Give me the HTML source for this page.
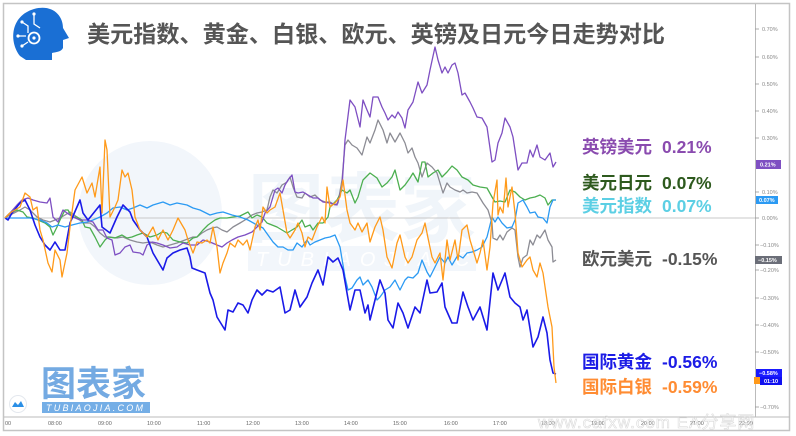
<!DOCTYPE html>
<html><head><meta charset="utf-8"><style>
html,body{margin:0;padding:0;background:#fff;}
svg{display:block;}
text{font-family:"Liberation Sans","Noto Sans CJK SC",sans-serif;}
</style></head><body>
<svg width="796" height="436" viewBox="0 0 796 436" xmlns="http://www.w3.org/2000/svg">
<rect x="0" y="0" width="796" height="436" fill="#fff"/>
<!-- watermark -->
<circle cx="150" cy="213" r="72" fill="#f2f6fb"/>
<text x="248" y="236" font-size="76" font-weight="bold" fill="#f0f5fa">图表家</text>
<rect x="248" y="246" width="228" height="25" fill="#f2f6fb"/>
<text x="256" y="266" font-size="20" font-style="italic" fill="#ffffff" letter-spacing="9">TUBIAOJIA.COM</text>

<!-- frame -->
<rect x="3.5" y="3.5" width="786" height="427" fill="none" stroke="#c4c4c4" stroke-width="1.5"/>
<line x1="755.5" y1="4" x2="755.5" y2="417" stroke="#bbb" stroke-width="1"/>
<line x1="4" y1="417" x2="790" y2="417" stroke="#bbb" stroke-width="1"/>
<line x1="5" y1="218" x2="755" y2="218" stroke="#c8c8c8" stroke-width="1"/>

<!-- logo -->
<path d="M20,56 C9,42 10,16 34,9 C52,4 63,15 63,28 L69,38 L63,40 L63,48 C61,52 56,52 52,53 L52,60 L26,60 Z" fill="#1a6fd4"/>
<circle cx="34" cy="38" r="5.5" fill="none" stroke="#fff" stroke-width="1.8"/>
<circle cx="34" cy="38" r="1.6" fill="#fff"/>
<path d="M22,22 L28,26 L28,33 M18,36 L26,36 M22,46 L28,42 M34,14 L34,24 L40,28" fill="none" stroke="#fff" stroke-width="1.3"/>
<circle cx="22" cy="22" r="1.6" fill="#fff"/><circle cx="18" cy="36" r="1.6" fill="#fff"/><circle cx="22" cy="46" r="1.6" fill="#fff"/><circle cx="34" cy="14" r="1.6" fill="#fff"/>

<!-- title -->
<text x="87" y="42" font-size="23" font-weight="bold" fill="#555" textLength="578" lengthAdjust="spacingAndGlyphs">美元指数、黄金、白银、欧元、英镑及日元今日走势对比</text>

<!-- series -->
<g fill="none" stroke-linejoin="round" stroke-width="1.3">
<polyline stroke="#8c8c94" points="5,218 10,215 20,210 25,207 30,210 37,217 43,220 50,222 55,220 60,218 65,215 70,212 77,217 83,223 90,223 95,227 100,233 105,237 110,237 117,238 123,237 130,240 137,242 143,243 150,242 157,245 163,247 170,245 177,243 185,240 193,237 197,237 202,233 207,230 212,228 217,227 222,230 227,232 233,227 240,223 245,220 252,215 257,213 262,212 267,210 270,197 273,190 277,193 282,185 287,182 290,177 293,187 297,197 302,198 305,193 310,197 315,195 320,200 325,202 330,202 335,205 338,203 342,180 345,145 348,140 352,145 357,148 362,155 367,137 370,143 375,130 378,120 383,130 387,143 390,133 395,142 400,133 405,143 408,153 412,148 415,157 418,163 422,177 427,163 432,167 437,173 440,183 443,193 447,183 450,187 455,190 460,192 463,190 467,193 472,192 477,193 480,198 483,203 488,210 492,223 493,238 497,240 500,235 503,240 507,232 512,228 515,230 518,257 520,267 523,258 527,255 530,240 533,245 537,235 540,238 545,230 548,240 552,247 553,262 556,260"/>
<polyline stroke="#4caf50" points="5,218 10,213 17,210 23,212 27,217 33,218 38,220 45,223 50,227 53,235 57,227 60,220 65,210 68,210 72,217 77,217 82,220 85,227 90,228 95,237 100,247 105,240 108,237 115,238 122,235 127,238 132,237 137,235 143,233 150,237 157,235 162,232 167,233 173,240 180,242 187,243 193,238 197,237 203,230 208,225 215,220 220,218 227,218 233,217 240,216 248,212 252,218 257,215 262,217 267,223 272,225 277,227 282,230 287,233 292,230 297,227 302,220 305,227 310,225 313,230 318,223 323,223 328,217 330,207 337,200 342,190 347,193 350,190 355,203 358,197 363,180 370,173 377,178 382,187 387,183 392,177 395,170 400,190 405,185 410,178 413,173 418,182 422,162 425,162 428,177 433,173 438,170 442,177 447,172 452,166 457,170 462,177 468,180 473,185 480,187 487,188 492,197 495,202 500,201 505,202 510,190 515,192 520,197 525,200 530,198 535,197 540,195 545,198 548,205 552,200 556,200"/>
<polyline stroke="#2b9af3" points="5,218 10,218 20,218 30,218 40,220 47,223 52,227 58,225 65,227 72,225 80,223 87,222 93,220 100,217 107,213 113,208 120,207 127,210 133,208 140,205 147,208 153,205 163,202 170,205 177,203 187,205 193,208 200,210 210,215 217,213 223,212 232,215 240,217 248,220 257,225 263,228 268,235 273,242 278,247 283,247 288,250 293,250 297,243 302,247 307,240 310,245 315,242 320,240 325,238 330,237 335,235 340,247 345,277 348,290 352,288 357,280 360,277 363,285 368,280 372,287 377,300 380,297 385,290 390,287 395,280 400,290 405,280 408,277 413,278 418,273 422,260 427,272 430,277 435,267 440,257 445,263 448,257 452,265 455,260 458,255 463,258 467,253 472,252 477,250 482,247 487,237 492,217 495,222 498,217 502,223 507,228 512,227 515,220 518,203 523,200 527,207 530,213 535,212 538,217 543,218 547,223 550,207 553,200 556,200"/>
<polyline stroke="#7e4fc2" points="5,218 10,213 17,205 22,200 28,198 33,200 40,202 47,203 50,198 53,217 58,222 63,210 67,213 73,217 80,220 87,220 93,222 98,230 103,230 107,238 112,240 115,255 120,253 125,247 130,245 133,252 140,253 143,255 147,245 152,242 157,243 163,245 170,248 177,247 183,243 190,245 197,245 203,240 210,242 217,245 222,247 227,243 232,240 238,237 245,235 252,232 257,227 262,222 265,213 270,207 275,190 278,188 282,193 285,185 288,180 292,175 295,192 298,193 303,192 308,195 313,198 318,198 323,202 330,203 337,205 342,187 345,140 350,100 355,107 360,127 363,100 367,110 370,117 373,97 378,97 382,107 385,113 388,120 392,115 395,118 398,112 402,118 405,128 408,110 413,102 418,82 422,93 427,85 430,70 435,47 438,60 442,73 445,67 448,73 452,65 455,63 458,73 462,95 465,93 470,102 473,108 477,117 482,118 487,127 492,162 495,160 498,143 502,133 505,118 510,127 513,137 518,170 522,163 527,163 530,150 533,157 537,145 540,157 545,160 550,153 553,167 556,162"/>
<polyline stroke="#1a1ae8" stroke-width="1.6" points="5,218 8,220 12,213 20,203 25,200 30,210 35,225 40,237 45,245 50,250 55,242 60,250 65,250 70,223 80,200 83,213 88,220 100,205 102,227 110,233 117,217 123,205 130,212 133,220 140,230 147,237 153,253 163,270 167,258 173,253 180,250 187,248 190,257 192,268 197,270 205,273 210,293 213,300 217,317 225,330 228,310 233,312 238,303 243,305 248,313 252,300 257,290 262,295 267,290 273,292 280,287 285,313 290,310 295,290 300,307 307,297 312,283 318,270 323,285 328,257 333,262 338,258 343,270 347,293 350,310 355,290 360,290 365,313 368,305 370,320 375,300 380,280 385,293 388,320 393,328 398,303 403,313 408,328 415,307 420,313 427,280 430,293 437,292 442,283 445,307 452,323 457,323 463,292 468,307 473,320 480,307 487,330 493,273 498,290 505,273 510,297 515,303 520,307 523,320 527,310 533,347 538,337 543,317 547,333 550,360 553,373 556,374"/>
<polyline stroke="#ff9a1a" points="5,218 10,213 20,207 25,193 30,197 33,210 37,207 40,230 43,240 48,263 52,272 55,250 60,260 62,277 67,253 70,227 75,190 82,177 87,193 92,183 95,197 100,167 102,213 105,140 107,150 110,217 115,207 118,200 122,170 125,177 128,173 132,190 135,217 140,230 147,237 153,227 158,240 163,230 168,240 173,230 178,218 185,230 188,240 193,253 197,242 202,243 207,240 210,243 213,227 217,247 220,273 223,263 227,253 230,243 235,247 238,240 243,245 247,240 250,250 255,227 258,220 260,230 263,207 267,213 270,210 275,207 280,193 283,210 287,233 290,238 295,230 298,223 302,233 305,247 308,237 312,240 317,227 322,217 325,223 327,187 330,207 335,203 340,197 343,180 347,210 350,223 355,230 358,223 362,232 367,223 370,242 375,227 380,217 383,230 387,257 392,268 397,243 400,235 405,257 408,263 412,257 417,240 422,233 425,223 428,238 432,257 435,263 440,253 443,280 447,240 450,260 455,240 458,260 462,230 467,225 470,240 477,263 480,253 483,240 487,270 490,247 493,203 497,180 498,215 500,207 503,213 506,178 508,207 512,187 515,213 518,253 522,267 527,260 530,257 533,270 537,277 540,263 543,273 548,307 552,327 554,367 556,383"/>
</g>

<!-- legend -->
<g font-size="17.5" font-weight="bold">
<text x="582" y="153" fill="#8a4baf">英镑美元<tspan x="662">0.21%</tspan></text>
<text x="582" y="189" fill="#2e5a1e">美元日元<tspan x="662">0.07%</tspan></text>
<text x="582" y="212" fill="#5ccfe4">美元指数<tspan x="662">0.07%</tspan></text>
<text x="582" y="265" fill="#555555">欧元美元<tspan x="662">-0.15%</tspan></text>
<text x="582" y="368" fill="#1c1ce6">国际黄金<tspan x="662">-0.56%</tspan></text>
<text x="582" y="393" fill="#ff8c33">国际白银<tspan x="662">-0.59%</tspan></text>
</g>

<!-- right axis -->
<g font-size="5.5" fill="#888">
<g stroke="#999" stroke-width="0.8">
<line x1="755" y1="29" x2="759" y2="29"/><line x1="755" y1="57" x2="759" y2="57"/><line x1="755" y1="84" x2="759" y2="84"/><line x1="755" y1="111" x2="759" y2="111"/><line x1="755" y1="138" x2="759" y2="138"/><line x1="755" y1="192" x2="759" y2="192"/><line x1="755" y1="218" x2="759" y2="218"/><line x1="755" y1="245" x2="759" y2="245"/><line x1="755" y1="270" x2="759" y2="270"/><line x1="755" y1="298" x2="759" y2="298"/><line x1="755" y1="325" x2="759" y2="325"/><line x1="755" y1="352" x2="759" y2="352"/><line x1="755" y1="407" x2="759" y2="407"/>
</g>
<text x="762" y="31">0.70%</text><text x="762" y="59">0.60%</text><text x="762" y="86">0.50%</text><text x="762" y="113">0.40%</text><text x="762" y="140">0.30%</text><text x="762" y="194">0.10%</text><text x="762" y="220">0.00%</text>
<text x="760" y="247">−0.10%</text><text x="760" y="272">−0.20%</text><text x="760" y="300">−0.30%</text><text x="760" y="327">−0.40%</text><text x="760" y="354">−0.50%</text><text x="760" y="409">−0.70%</text>
</g>
<rect x="756" y="160" width="25" height="9" fill="#7e4fc2"/><text x="760" y="166.5" font-size="5.5" fill="#fff" font-weight="bold">0.21%</text>
<rect x="756" y="196" width="22" height="8" fill="#2b9af3"/><text x="759" y="202" font-size="5.5" fill="#fff" font-weight="bold">0.07%</text>
<rect x="755" y="256" width="27" height="8" fill="#6b6e78"/><text x="758" y="262" font-size="5.5" fill="#fff" font-weight="bold">−0.15%</text>
<rect x="756" y="369" width="26" height="8" fill="#1a1aff"/><text x="759" y="375" font-size="5.5" fill="#fff" font-weight="bold">−0.58%</text>
<rect x="754" y="377" width="6" height="7" fill="#ff9a1a"/>
<rect x="760" y="377" width="22" height="8" fill="#1010f0"/><text x="764" y="383" font-size="5.5" fill="#fff" font-weight="bold">01:10</text>

<!-- x axis -->
<g font-size="5.5" fill="#666">
<text x="5" y="425">00</text>
<text x="48" y="425">08:00</text><text x="98" y="425">09:00</text><text x="147" y="425">10:00</text><text x="197" y="425">11:00</text><text x="246" y="425">12:00</text><text x="295" y="425">13:00</text><text x="344" y="425">14:00</text><text x="393" y="425">15:00</text><text x="444" y="425">16:00</text><text x="493" y="425">17:00</text><text x="541" y="425">18:00</text><text x="591" y="425">19:00</text><text x="641" y="425">20:00</text><text x="690" y="425">21:00</text><text x="739" y="425">22:00</text>
</g>
<text x="538" y="428" font-size="17" fill="none" stroke="#dadada" stroke-width="0.6" letter-spacing="1">www.cafxw.com EA分享网</text>

<!-- bottom-left logo -->
<text x="41" y="396" font-size="35" font-weight="bold" fill="#74aae2">图表家</text>
<rect x="42" y="402" width="108" height="11" fill="#74aee6"/>
<text x="46" y="411" font-size="9" font-style="italic" fill="#fff" letter-spacing="3" textLength="100">TUBIAOJIA.COM</text>
<circle cx="18" cy="404" r="8.5" fill="#fff" stroke="#e4e8ee" stroke-width="1"/>
<path d="M12,407 L15,402 L18,405 L21,401 L24,407 Z" fill="#2b8fe6"/>
</svg>
</body></html>
